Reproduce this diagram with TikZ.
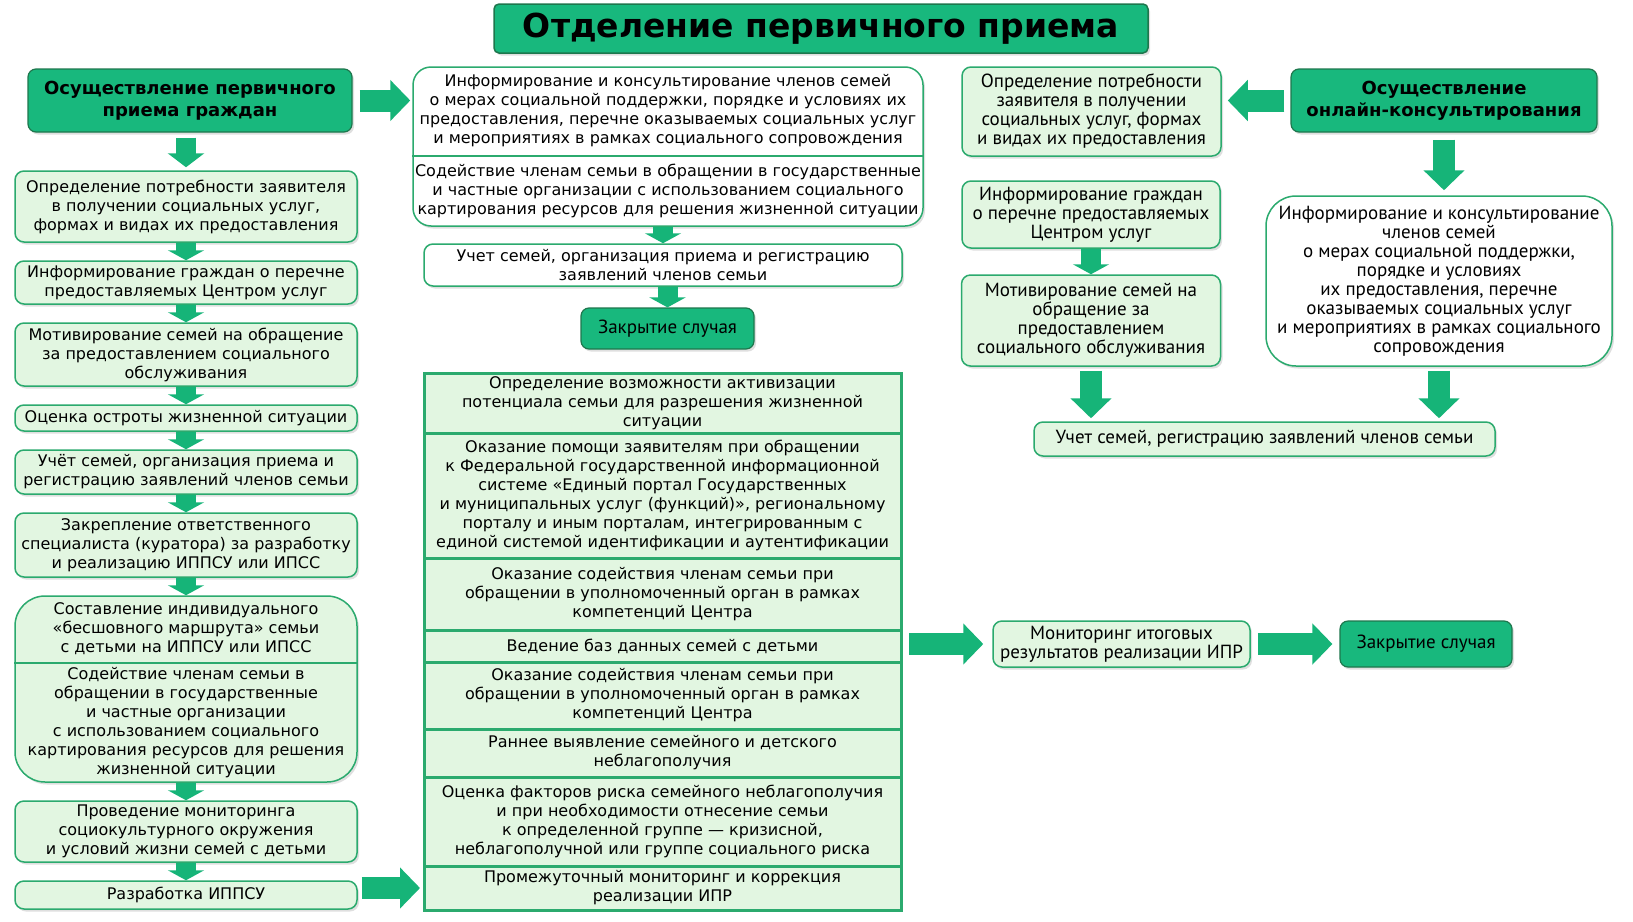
\documentclass[tikz,border=0pt]{standalone}
\usepackage{fontspec}
\setmainfont{DejaVu Sans}
\newfontfamily\narrowfont{PT Sans}
\usepackage{tikz}
\usetikzlibrary{arrows.meta, positioning, shadows}

\definecolor{hdrgreen}{HTML}{18B87D}
\definecolor{edgegreen}{HTML}{2BAA6E}
\definecolor{mint}{HTML}{E2F6E1}
\definecolor{arrgreen}{HTML}{16B478}

\begin{document}
\begin{tikzpicture}[
  x=1pt, y=-1pt,
  node distance=17.5pt,
  every node/.style={inner sep=0pt, align=center},
  bodytext/.style={font=\fontsize{16}{19}\selectfont},
  narrowtext/.style={font=\narrowfont\fontsize{19}{19}\selectfont},
  softshadow/.style={drop shadow={shadow xshift=2pt, shadow yshift=-2.5pt, opacity=0.25}},
  titlebox/.style={rectangle, rounded corners=5pt, draw=edgegreen!70!black, line width=1.5pt, fill=hdrgreen, softshadow, font=\bfseries\fontsize{33}{36}\selectfont},
  headbox/.style={rectangle, rounded corners=8pt, draw=edgegreen!70!black, line width=1.2pt, fill=hdrgreen, softshadow, font=\bfseries\fontsize{18}{22}\selectfont},
  softbox/.style={rectangle, rounded corners=9pt, draw=edgegreen, line width=1.5pt, fill=mint, softshadow, bodytext},
  plainbox/.style={softbox, fill=white},
  cellbox/.style={rectangle, draw=edgegreen, line width=3pt, outer sep=0pt, fill=mint, bodytext, minimum width=477},
  closebox/.style={headbox, font=\narrowfont\fontsize{19}{19}\selectfont},
  flowarrow/.style={draw=arrgreen, line width=20pt, -{Triangle[width=36pt,length=10pt]}},
  bigarrow/.style={draw=arrgreen, line width=22pt, -{Triangle[width=40pt,length=20pt]}}
]
\path[use as bounding box, fill=white] (0,0) rectangle (1633,921);

\node[titlebox, minimum width=654, minimum height=49] (title) at (821,28.5) {Отделение первичного приема};

\node[headbox, minimum width=324, minimum height=63] (lhead) at (190,100.5) {Осуществление первичного\\приема граждан};
\node[softbox, minimum width=342, minimum height=71] (l1) at (186,206.5) {Определение потребности заявителя\\в получении социальных услуг,\\формах и видах их предоставления};
\node[softbox, minimum width=342, minimum height=43, below=of l1] (l2) {Информирование граждан о перечне\\предоставляемых Центром услуг};
\node[softbox, minimum width=342, minimum height=63, below=of l2] (l3) {Мотивирование семей на обращение\\за предоставлением социального\\обслуживания};
\node[softbox, minimum width=342, minimum height=26, below=of l3] (l4) {Оценка остроты жизненной ситуации};
\node[softbox, minimum width=342, minimum height=44, below=of l4] (l5) {Учёт семей, организация приема и\\регистрацию заявлений членов семьи};
\node[softbox, minimum width=342, minimum height=64, below=of l5] (l6) {Закрепление ответственного\\специалиста (куратора) за разработку\\и реализацию ИППСУ или ИПСС};
\node[softbox, rounded corners=30pt, minimum width=342, minimum height=186, below=of l6] (l7) {};
\node[bodytext, minimum height=67, below=0pt of l7.north] (l7a) {Составление индивидуального\\«бесшовного маршрута» семьи\\с детьми на ИППСУ или ИПСС};
\node[bodytext, minimum height=119, below=0pt of l7a] (l7b) {Содействие членам семьи в\\обращении в государственные\\и частные организации\\с использованием социального\\картирования ресурсов для решения\\жизненной ситуации};
\draw[edgegreen, line width=2pt] (l7.west |- l7a.south) -- (l7.east |- l7a.south);
\node[softbox, minimum width=342, minimum height=61, below=of l7] (l8) {Проведение мониторинга\\социокультурного окружения\\и условий жизни семей с детьми};
\node[softbox, minimum width=342, minimum height=28, below=of l8] (l9) {Разработка ИППСУ};

\node[plainbox, rounded corners=18pt, minimum width=510, minimum height=159] (m1) at (668,146.5) {};
\node[bodytext, minimum height=89, below=0pt of m1.north] (m1a) {Информирование и консультирование членов семей\\о мерах социальной поддержки, порядке и условиях их\\предоставления, перечне оказываемых социальных услуг\\и мероприятиях в рамках социального сопровождения};
\node[bodytext, minimum height=70, below=0pt of m1a] (m1b) {Содействие членам семьи в обращении в государственные\\и частные организации с использованием социального\\картирования ресурсов для решения жизненной ситуации};
\draw[edgegreen, line width=2pt] (m1.west |- m1a.south) -- (m1.east |- m1a.south);
\node[plainbox, minimum width=478, minimum height=42] (m2) at (663,265) {Учет семей, организация приема и регистрацию\\заявлений членов семьи};
\node[closebox, minimum width=173, minimum height=41] (m3) at (667.5,328.5) {Закрытие случая};

\node[cellbox, minimum height=60] (t1) at (662.5,403) {Определение возможности активизации\\потенциала семьи для разрешения жизненной\\ситуации};
\node[cellbox, minimum height=125, below=0pt of t1] (t2) {Оказание помощи заявителям при обращении\\к Федеральной государственной информационной\\системе «Единый портал Государственных\\и муниципальных услуг (функций)», региональному\\порталу и иным порталам, интегрированным с\\единой системой идентификации и аутентификации};
\node[cellbox, minimum height=72, below=0pt of t2] (t3) {Оказание содействия членам семьи при\\обращении в уполномоченный орган в рамках\\компетенций Центра};
\node[cellbox, minimum height=32, below=0pt of t3] (t4) {Ведение баз данных семей с детьми};
\node[cellbox, minimum height=67, below=0pt of t4] (t5) {Оказание содействия членам семьи при\\обращении в уполномоченный орган в рамках\\компетенций Центра};
\node[cellbox, minimum height=48, below=0pt of t5] (t6) {Раннее выявление семейного и детского\\неблагополучия};
\node[cellbox, minimum height=89, below=0pt of t6] (t7) {Оценка факторов риска семейного неблагополучия\\и при необходимости отнесение семьи\\к определенной группе — кризисной,\\неблагополучной или группе социального риска};
\node[cellbox, minimum height=44, below=0pt of t7] (t8) {Промежуточный мониторинг и коррекция\\реализации ИПР};

\node[softbox, narrowtext, minimum width=259, minimum height=89] (r1) at (1091.5,111.5) {Определение потребности\\заявителя в получении\\социальных услуг, формах\\и видах их предоставления};
\node[headbox, minimum width=306, minimum height=63] (rhead) at (1444,100.5) {Осуществление\\онлайн-консультирования};
\node[softbox, narrowtext, minimum width=258, minimum height=67] (r2) at (1091,214.5) {Информирование граждан\\о перечне предоставляемых\\Центром услуг};
\node[softbox, narrowtext, minimum width=259, minimum height=91] (r3) at (1091,320.5) {Мотивирование семей на\\обращение за\\предоставлением\\социального обслуживания};
\node[plainbox, narrowtext, rounded corners=30pt, minimum width=346, minimum height=170] (r4) at (1439,281) {Информирование и консультирование\\членов семей\\о мерах социальной поддержки,\\порядке и условиях\\их предоставления, перечне\\оказываемых социальных услуг\\и мероприятиях в рамках социального\\сопровождения};
\node[softbox, narrowtext, minimum width=461, minimum height=34] (r5) at (1264.5,439) {Учет семей, регистрацию заявлений членов семьи};

\node[softbox, narrowtext, minimum width=257, minimum height=46] (mon) at (1121.5,644) {Мониторинг итоговых\\результатов реализации ИПР};
\node[closebox, minimum width=172, minimum height=46] (close) at (1426,644) {Закрытие случая};

\draw[flowarrow, -{Triangle[width=36pt,length=14pt]}, shorten <=5pt, shorten >=3pt] (lhead.south -| l1) -- (l1);
\foreach \a/\b in {l1/l2, l2/l3, l3/l4, l4/l5, l5/l6, l6/l7, l7/l8, l8/l9}
  \draw[flowarrow] (\a) -- (\b);
\draw[flowarrow] (m1.south -| m2) -- (m2);
\draw[flowarrow] (m2.south -| m3) -- (m3);
\draw[flowarrow] (r2) -- (r3);

\draw[bigarrow, shorten <=7pt, shorten >=2pt] (lhead.east) -- (lhead.east -| m1.west);
\draw[bigarrow, shorten <=6pt, shorten >=6pt] (rhead.west) -- (rhead.west -| r1.east);
\draw[bigarrow, shorten <=7pt, shorten >=5pt] (rhead.south) -- (rhead.south |- r4.north);
\draw[bigarrow, shorten <=4pt, shorten >=3pt] (r3) -- (r3 |- r5.north);
\draw[bigarrow, shorten <=4pt, shorten >=3pt] (r4) -- (r4 |- r5.north);
\draw[bigarrow, shorten <=4pt, shorten >=4pt] (l9.east |- t8) -- (t8);
\draw[bigarrow, shorten <=8pt, shorten >=9pt] (t4.east |- mon) -- (mon);
\draw[bigarrow, shorten <=7pt, shorten >=7pt] (mon) -- (close);
\end{tikzpicture}
\end{document}
